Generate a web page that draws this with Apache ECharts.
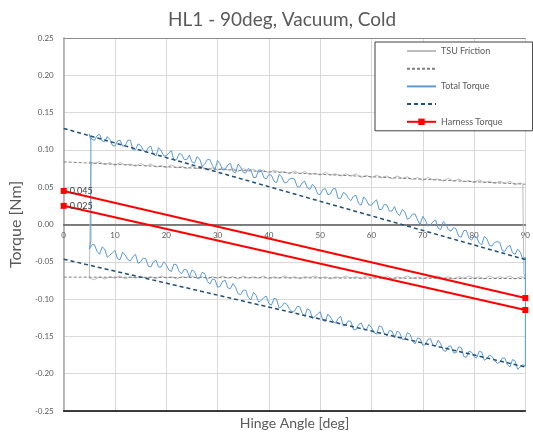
<!DOCTYPE html>
<html>
<head>
<meta charset="utf-8">
<script src="https://cdn.jsdelivr.net/npm/echarts@6/dist/echarts.min.js"></script>
<style>
  html, body { margin: 0; padding: 0; background: #fff; }
  #chart { width: 533px; height: 436px; }
</style>
</head>
<body>
<div id="chart"></div>
<script>
// hinge angle samples [deg]
const angles = [5, 6, 7, 8, 9, 10, 11, 12, 13, 14, 15, 16, 17, 18, 19, 20, 21, 22, 23, 24,
  25, 26, 27, 28, 29, 30, 31, 32, 33, 34, 35, 36, 37, 38, 39, 40, 41, 42, 43, 44,
  45, 46, 47, 48, 49, 50, 51, 52, 53, 54, 55, 56, 57, 58, 59, 60, 61, 62, 63, 64,
  65, 66, 67, 68, 69, 70, 71, 72, 73, 74, 75, 76, 77, 78, 79, 80, 81, 82, 83, 84,
  85, 86, 87, 88, 89, 90];
const halfAngles = [5.5, 6.5, 7.5, 8.5, 9.5, 10.5, 11.5, 12.5, 13.5, 14.5, 15.5, 16.5, 17.5, 18.5, 19.5,
  20.5, 21.5, 22.5, 23.5, 24.5, 25.5, 26.5, 27.5, 28.5, 29.5, 30.5, 31.5, 32.5, 33.5, 34.5,
  35.5, 36.5, 37.5, 38.5, 39.5, 40.5, 41.5, 42.5, 43.5, 44.5, 45.5, 46.5, 47.5, 48.5, 49.5,
  50.5, 51.5, 52.5, 53.5, 54.5, 55.5, 56.5, 57.5, 58.5, 59.5, 60.5, 61.5, 62.5, 63.5, 64.5,
  65.5, 66.5, 67.5, 68.5, 69.5, 70.5, 71.5, 72.5, 73.5, 74.5, 75.5, 76.5, 77.5, 78.5, 79.5,
  80.5, 81.5, 82.5, 83.5, 84.5, 85.5, 86.5, 87.5, 88.5, 89.5];

// TSU friction, opening (5..89) and closing (5..90) branches [Nm]
const frictionUp = [0.084, 0.082, 0.084, 0.080, 0.083, 0.079, 0.083, 0.080, 0.081, 0.078,
  0.082, 0.078, 0.081, 0.077, 0.079, 0.076, 0.080, 0.076, 0.078, 0.075,
  0.078, 0.075, 0.078, 0.073, 0.076, 0.073, 0.076, 0.073, 0.075, 0.071,
  0.075, 0.072, 0.074, 0.070, 0.073, 0.069, 0.073, 0.070, 0.071, 0.068,
  0.072, 0.068, 0.071, 0.067, 0.069, 0.066, 0.070, 0.066, 0.068, 0.065,
  0.068, 0.065, 0.068, 0.063, 0.066, 0.063, 0.066, 0.063, 0.065, 0.061,
  0.065, 0.062, 0.064, 0.060, 0.063, 0.059, 0.063, 0.060, 0.061, 0.058,
  0.062, 0.058, 0.061, 0.057, 0.059, 0.056, 0.060, 0.056, 0.058, 0.055,
  0.058, 0.055, 0.058, 0.053, 0.056];
const frictionLow = [-0.072, -0.074, -0.070, -0.073, -0.070, -0.072, -0.069, -0.073, -0.070, -0.072,
  -0.069, -0.072, -0.070, -0.073, -0.069, -0.072, -0.070, -0.073, -0.070, -0.071,
  -0.069, -0.072, -0.070, -0.073, -0.070, -0.072, -0.069, -0.072, -0.070, -0.073,
  -0.069, -0.072, -0.070, -0.072, -0.069, -0.073, -0.070, -0.072, -0.069, -0.072,
  -0.070, -0.073, -0.070, -0.071, -0.069, -0.072, -0.070, -0.073, -0.070, -0.072,
  -0.069, -0.072, -0.070, -0.073, -0.069, -0.072, -0.070, -0.072, -0.069, -0.073,
  -0.070, -0.072, -0.069, -0.072, -0.070, -0.073, -0.070, -0.071, -0.069, -0.072,
  -0.070, -0.073, -0.070, -0.072, -0.069, -0.072, -0.070, -0.073, -0.069, -0.072,
  -0.070, -0.072, -0.069, -0.073, -0.070, -0.071];
const frictionRightEdge = [[89.5, 0.054], [89.7, -0.066]];
const frictionLeftEdge = [[5.2, -0.074], [5.3, 0.079], [5.6, 0.083]];

// total torque, opening and closing branches at whole degrees (5..90) [Nm]
const totalUp = [0.121, 0.113, 0.121, 0.111, 0.114, 0.105, 0.113, 0.106, 0.113, 0.100,
  0.106, 0.097, 0.105, 0.092, 0.099, 0.092, 0.099, 0.087, 0.094, 0.087,
  0.084, 0.091, 0.078, 0.087, 0.079, 0.086, 0.073, 0.080, 0.071, 0.081,
  0.070, 0.075, 0.063, 0.073, 0.063, 0.067, 0.058, 0.067, 0.056, 0.061,
  0.061, 0.050, 0.058, 0.047, 0.050, 0.040, 0.048, 0.041, 0.048, 0.035,
  0.041, 0.032, 0.039, 0.026, 0.033, 0.026, 0.033, 0.020, 0.026, 0.018,
  0.015, 0.020, 0.007, 0.014, 0.006, 0.011, -0.002, 0.004, -0.005, 0.004,
  -0.007, -0.004, -0.016, -0.008, -0.018, -0.016, -0.025, -0.016, -0.028, -0.024,
  -0.024, -0.036, -0.028, -0.040, -0.037, -0.044];
const totalLow = [-0.033, -0.027, -0.040, -0.033, -0.041, -0.035, -0.047, -0.041, -0.049, -0.040,
  -0.050, -0.046, -0.057, -0.048, -0.057, -0.054, -0.063, -0.054, -0.066, -0.061,
  -0.061, -0.072, -0.064, -0.076, -0.073, -0.084, -0.076, -0.085, -0.079, -0.093,
  -0.088, -0.098, -0.091, -0.104, -0.098, -0.106, -0.099, -0.112, -0.105, -0.113,
  -0.116, -0.110, -0.123, -0.115, -0.123, -0.117, -0.130, -0.124, -0.132, -0.123,
  -0.134, -0.130, -0.141, -0.132, -0.141, -0.138, -0.147, -0.137, -0.149, -0.143,
  -0.143, -0.154, -0.145, -0.156, -0.152, -0.162, -0.154, -0.162, -0.155, -0.169,
  -0.163, -0.172, -0.164, -0.177, -0.170, -0.177, -0.170, -0.182, -0.175, -0.182,
  -0.185, -0.179, -0.191, -0.183, -0.191, -0.190];
// total torque at half degrees (5.5..89.5) [Nm]
const totalUpHalf = [0.114, 0.119, 0.112, 0.118, 0.106, 0.112, 0.105, 0.113, 0.100, 0.108,
  0.100, 0.103, 0.094, 0.103, 0.092, 0.096, 0.086, 0.095, 0.087, 0.093,
  0.082, 0.088, 0.081, 0.087, 0.074, 0.081, 0.074, 0.082, 0.069, 0.077,
  0.069, 0.073, 0.063, 0.073, 0.061, 0.066, 0.056, 0.064, 0.056, 0.062,
  0.051, 0.056, 0.049, 0.054, 0.041, 0.047, 0.040, 0.048, 0.035, 0.043,
  0.035, 0.038, 0.028, 0.037, 0.026, 0.030, 0.020, 0.027, 0.018, 0.024,
  0.012, 0.017, 0.009, 0.014, 0.000, 0.006, -0.001, 0.006, -0.007, 0.000,
  -0.009, -0.006, -0.017, -0.008, -0.021, -0.017, -0.027, -0.019, -0.029, -0.023,
  -0.035, -0.030, -0.038, -0.033, -0.046];
const totalLowHalf = [-0.027, -0.036, -0.030, -0.044, -0.038, -0.046, -0.037, -0.047, -0.043, -0.052,
  -0.045, -0.056, -0.050, -0.057, -0.050, -0.061, -0.053, -0.063, -0.060, -0.070,
  -0.063, -0.072, -0.066, -0.080, -0.074, -0.083, -0.075, -0.086, -0.084, -0.094,
  -0.088, -0.101, -0.095, -0.102, -0.096, -0.108, -0.100, -0.110, -0.107, -0.117,
  -0.110, -0.119, -0.113, -0.126, -0.120, -0.128, -0.120, -0.130, -0.126, -0.136,
  -0.129, -0.141, -0.134, -0.140, -0.134, -0.145, -0.136, -0.146, -0.142, -0.152,
  -0.145, -0.154, -0.147, -0.160, -0.153, -0.161, -0.153, -0.163, -0.160, -0.170,
  -0.163, -0.172, -0.165, -0.178, -0.171, -0.179, -0.171, -0.180, -0.177, -0.186,
  -0.179, -0.188, -0.181, -0.194, -0.188];
const totalLeftEdge = [[5.3, -0.022], [5.3, 0.112]];

// linear fits (ends at 0 and 90 deg)
const fitAngles = [0, 90];
const frictionFitUp = [0.084, 0.054];
const frictionFitLow = [-0.0705, -0.0725];
const totalFitUp = [0.1288, -0.047];
const totalFitLow = [-0.0465, -0.191];

// harness torque lines
const harnessHigh = [0.045, -0.0985];
const harnessLow = [0.025, -0.1146];

const yTicks = [-0.25, -0.2, -0.15, -0.1, -0.05, 0, 0.05, 0.1, 0.15, 0.2, 0.25];

// one branch, whole and half degrees merged in angle order
function branch(whole, half) {
  const pts = [];
  for (let i = 0; i < whole.length; i++) {
    pts.push([angles[i], whole[i]]);
    if (half && i < half.length) pts.push([halfAngles[i], half[i]]);
  }
  return pts;
}

function buildLoop(up, low, rightEdge, leftEdge) {
  const pts = up.concat(rightEdge, low.slice().reverse(), leftEdge);
  pts.push(pts[0]);
  return pts;
}

function pairs(xs, ys) {
  return xs.map((x, i) => [x, ys[i]]);
}

const font = 'Lato';
const grey = '#595959';

const chart = echarts.init(document.getElementById('chart'));

function dashed(name, ys, color, width, dash) {
  return {
    name: name,
    type: 'line',
    symbol: 'none',
    silent: true,
    data: pairs(fitAngles, ys),
    lineStyle: { color: color, width: width, type: dash },
    itemStyle: { color: color },
  };
}

function harness(ys) {
  const d = pairs(fitAngles, ys);
  return {
    name: 'Harness Torque',
    type: 'line',
    symbol: 'rect',
    symbolSize: 6,
    silent: true,
    data: [{ value: d[0], label: { show: true } }, d[1]],
    lineStyle: { color: '#ff0000', width: 2 },
    itemStyle: { color: '#ff0000' },
    label: {
      show: false,
      position: 'right',
      distance: 3,
      fontFamily: font,
      fontSize: 9,
      color: '#404040',
      formatter: p => p.value[1].toFixed(3),
    },
  };
}

const lineOnly = { opacity: 0 };

chart.setOption({
  animation: false,
  backgroundColor: '#fff',
  title: {
    text: 'HL1 - 90deg, Vacuum, Cold',
    left: 163,
    top: 5,
    textStyle: { fontFamily: font, fontSize: 19, fontWeight: 'normal', color: grey },
  },
  legend: {
    orient: 'vertical',
    left: 375,
    top: 42,
    padding: [4, 30, 4, 31],
    itemWidth: 29,
    itemHeight: 8,
    itemGap: 9.5,
    borderColor: '#404040',
    borderWidth: 1,
    backgroundColor: '#fff',
    textStyle: { fontFamily: font, fontSize: 9, color: grey, lineHeight: 10 },
    formatter: name => (name.endsWith('fit') ? '' : name),
    data: [
      { name: 'TSU Friction', itemStyle: lineOnly },
      { name: 'TSU Friction fit', itemStyle: lineOnly },
      { name: 'Total Torque', itemStyle: lineOnly },
      { name: 'Total Torque fit', itemStyle: lineOnly },
      { name: 'Harness Torque' },
    ],
  },
  grid: { left: 63, right: 3, top: 38, bottom: 25 },
  xAxis: [
    {
      type: 'value',
      min: 0,
      max: 90,
      interval: 10,
      position: 'bottom',
      offset: -186.5,
      axisLine: { onZero: false, lineStyle: { color: '#595959', width: 1.5 } },
      axisTick: { show: false },
      axisLabel: { fontFamily: font, fontSize: 8, color: grey, margin: 7 },
      splitLine: { show: true, lineStyle: { color: '#d9d9d9' } },
    },
    {
      type: 'value',
      min: 0,
      max: 90,
      position: 'bottom',
      axisLine: { show: true, onZero: false, lineStyle: { color: '#000', width: 1.5 } },
      axisTick: { show: false },
      axisLabel: { show: false },
      splitLine: { show: false },
      name: 'Hinge Angle [deg]',
      nameLocation: 'middle',
      nameGap: 5,
      nameTextStyle: { fontFamily: font, fontSize: 14, color: grey },
    },
    {
      type: 'value',
      min: 0,
      max: 90,
      position: 'top',
      axisLine: { show: true, onZero: false, lineStyle: { color: '#8c8c8c', width: 1 } },
      axisTick: { show: false },
      axisLabel: { show: false },
      splitLine: { show: false },
    },
  ],
  yAxis: {
    type: 'value',
    min: yTicks[0],
    max: yTicks[yTicks.length - 1],
    interval: 0.05,
    axisLine: { show: true, lineStyle: { color: '#a6a6a6', width: 1.5 } },
    axisTick: { show: false },
    axisLabel: {
      fontFamily: font,
      fontSize: 8,
      color: grey,
      margin: 10,
      formatter: v => v.toFixed(2),
    },
    splitLine: { show: true, lineStyle: { color: '#d9d9d9' } },
    name: 'Torque [Nm]',
    nameLocation: 'middle',
    nameGap: 36,
    nameTextStyle: { fontFamily: font, fontSize: 16, color: grey },
  },
  series: [
    {
      name: 'TSU Friction',
      type: 'line',
      symbol: 'none',
      silent: true,
      data: buildLoop(branch(frictionUp), branch(frictionLow), frictionRightEdge, frictionLeftEdge),
      lineStyle: { color: '#bdbdbd', width: 1 },
      itemStyle: { color: '#d0d0d0' },
    },
    dashed('TSU Friction fit', frictionFitUp, '#7f7f7f', 1, [3, 2]),
    dashed('TSU Friction fit', frictionFitLow, '#7f7f7f', 1, [3, 2]),
    {
      name: 'Total Torque',
      type: 'line',
      symbol: 'none',
      silent: true,
      data: buildLoop(branch(totalUp, totalUpHalf), branch(totalLow, totalLowHalf), [], totalLeftEdge),
      lineStyle: { color: '#5b9bd5', width: 1 },
      itemStyle: { color: '#5b9bd5' },
    },
    dashed('Total Torque fit', totalFitUp, '#1f4e79', 1.5, [4, 3]),
    dashed('Total Torque fit', totalFitLow, '#1f4e79', 1.5, [4, 3]),
    harness(harnessHigh),
    harness(harnessLow),
  ],
});
</script>
</body>
</html>
